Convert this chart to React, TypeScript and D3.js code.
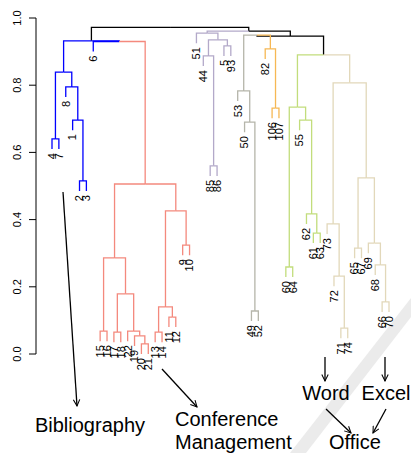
import React, { useEffect, useRef } from 'react';
import * as d3 from 'd3';

// leaf order along the x axis (left to right)
const leafOrder = [
  '4', '7', '8', '1', '2', '3', '6',
  '15', '16', '17', '18', '22', '19', '20', '21', '13', '14', '11', '12', '9', '10',
  '51', '44', '85', '86', '5', '93',
  '53', '50', '49', '52',
  '82', '106', '107',
  '60', '64', '55', '62', '61', '63',
  '73', '72', '71', '74', '65', '67', '69', '68', '66', '70',
];

// merges: [node id, left child, right child, height]
const merges: [string, string, string, number][] = [
  ['b47', '4', '7', 0.64],
  ['b23', '2', '3', 0.515],
  ['b123', '1', 'b23', 0.696],
  ['b8', '8', 'b123', 0.795],
  ['blueA', 'b47', 'b8', 0.839],
  ['r1516', '15', '16', 0.068],
  ['r1718', '17', '18', 0.065],
  ['r2021', '20', '21', 0.03],
  ['r19', '19', 'r2021', 0.054],
  ['r22', '22', 'r19', 0.068],
  ['r17', 'r1718', 'r22', 0.179],
  ['rL', 'r1516', 'r17', 0.286],
  ['r1314', '13', '14', 0.065],
  ['r1112', '11', '12', 0.11],
  ['r11', 'r1314', 'r1112', 0.14],
  ['r910', '9', '10', 0.324],
  ['rR', 'r11', 'r910', 0.426],
  ['red', 'rL', 'rR', 0.506],
  ['b6r', '6', 'red', 0.93],
  ['n1', 'blueA', 'b6r', 0.932],
  ['p8586', '85', '86', 0.56],
  ['p44', '44', 'p8586', 0.887],
  ['p593', '5', '93', 0.917],
  ['p44b', 'p44', 'p593', 0.935],
  ['purple', '51', 'p44b', 0.955],
  ['g4952', '49', '52', 0.128],
  ['g50', '50', 'g4952', 0.69],
  ['gray', '53', 'g50', 0.783],
  ['o106', '106', '107', 0.732],
  ['orange', '82', 'o106', 0.908],
  ['go', 'gray', 'orange', 0.949],
  ['gr6064', '60', '64', 0.259],
  ['gr6163', '61', '63', 0.36],
  ['gr62', '62', 'gr6163', 0.417],
  ['gr55', '55', 'gr62', 0.696],
  ['green', 'gr6064', 'gr55', 0.735],
  ['t7174', '71', '74', 0.077],
  ['t72', '72', 't7174', 0.232],
  ['t73', '73', 't72', 0.387],
  ['t6567', '65', '67', 0.315],
  ['t6670', '66', '70', 0.155],
  ['t68', '68', 't6670', 0.265],
  ['t69', '69', 't68', 0.33],
  ['t65', 't6567', 't69', 0.524],
  ['tan', 't73', 't65', 0.807],
  ['gt', 'green', 'tan', 0.89],
  ['m1', 'go', 'gt', 0.946],
  ['m2', 'purple', 'm1', 0.961],
  ['m3', 'n1', 'm2', 0.972],
];

// cluster colours (children inherit unless they have their own)
const clusterColors: Record<string, string> = {
  blueA: '#0000ff',
  b6r: '#0000ff',
  red: '#f4897d',
  purple: '#b3a9c9',
  gray: '#b5b5aa',
  orange: '#f6b854',
  green: '#c2dd7c',
  tan: '#e2d8ba',
};

const yTicks = [0, 0.2, 0.4, 0.6, 0.8, 1.0];
const hang = 0.03;

type Node = { id: string; left?: Node; right?: Node; h: number; x: number; color: string };

export default function App() {
  const svgRef = useRef<SVGSVGElement>(null);

  useEffect(() => {
    if (!svgRef.current) return;
    const svg = d3.select(svgRef.current);
    svg.selectAll('*').remove();

    const width = 411;
    const height = 453;
    svg.attr('width', width).attr('height', height);

    const x = d3.scaleLinear().domain([0, leafOrder.length - 1]).range([52, 389]);
    const y = d3.scaleLinear().domain([0, 1]).range([354, 18]);

    // build the tree
    const nodes = new Map<string, Node>();
    leafOrder.forEach((id, i) => nodes.set(id, { id, h: 0, x: x(i), color: '#000' }));
    merges.forEach(([id, l, r, h]) => {
      const left = nodes.get(l)!;
      const right = nodes.get(r)!;
      nodes.set(id, { id, left, right, h, x: (left.x + right.x) / 2, color: '#000' });
    });
    const root = nodes.get(merges[merges.length - 1][0])!;

    const edges: { px: number; ph: number; c: Node }[] = [];
    const walk = (n: Node, col: string) => {
      n.color = clusterColors[n.id] ?? col;
      if (!n.left || !n.right) return;
      for (const c of [n.left, n.right]) {
        if (!c.left) c.h = n.h - hang;
        edges.push({ px: n.x, ph: n.h, c });
        walk(c, n.color);
      }
    };
    walk(root, '#000');

    // watermark band
    svg.append('polygon')
      .attr('points', '290,453 306,453 411,317 411,298')
      .attr('fill', '#ebebeb');

    const g = svg.append('g');
    g.selectAll('path.edge')
      .data(edges)
      .enter().append('path')
      .attr('class', 'edge')
      .attr('d', (e) => `M${e.px},${y(e.ph)}H${e.c.x}V${y(e.c.h)}`)
      .attr('fill', 'none')
      .attr('stroke', (e) => e.c.color)
      .attr('stroke-width', 1.3);

    // leaf labels
    const leaves = edges.filter((e) => !e.c.left).map((e) => e.c);
    g.selectAll('text.leaf')
      .data(leaves)
      .enter().append('text')
      .attr('class', 'leaf')
      .attr('transform', (d) => `translate(${d.x},${y(d.h) + 4}) rotate(-90)`)
      .attr('text-anchor', 'end')
      .attr('dy', '0.35em')
      .style('font-size', '11px')
      .text((d) => d.id);

    // y axis
    const axis = svg.append('g');
    axis.append('line')
      .attr('x1', 36).attr('x2', 36)
      .attr('y1', y(0)).attr('y2', y(1))
      .attr('stroke', '#000');
    axis.selectAll('line.tick')
      .data(yTicks)
      .enter().append('line')
      .attr('class', 'tick')
      .attr('x1', 29).attr('x2', 36)
      .attr('y1', (d) => y(d)).attr('y2', (d) => y(d))
      .attr('stroke', '#000');
    axis.selectAll('text')
      .data(yTicks)
      .enter().append('text')
      .attr('transform', (d) => `translate(21,${y(d)}) rotate(-90)`)
      .attr('text-anchor', 'middle')
      .style('font-size', '11px')
      .text((d) => d.toFixed(1));

    // annotations
    const defs = svg.append('defs');
    defs.append('marker')
      .attr('id', 'arr')
      .attr('viewBox', '0 0 10 10')
      .attr('refX', 9).attr('refY', 5)
      .attr('markerWidth', 8).attr('markerHeight', 8)
      .attr('markerUnits', 'userSpaceOnUse')
      .attr('orient', 'auto')
      .append('path')
      .attr('d', 'M1,1L9,5L1,9')
      .attr('fill', 'none')
      .attr('stroke', '#000')
      .attr('stroke-width', 1.3);

    const arrows = [
      [63, 192, 77, 406],
      [162, 369, 197, 407],
      [325, 357, 325, 381],
      [385, 357, 385, 381],
      [326, 409, 351, 433],
      [386, 409, 373, 433],
    ];
    svg.selectAll('line.arrow')
      .data(arrows)
      .enter().append('line')
      .attr('class', 'arrow')
      .attr('x1', (d) => d[0]).attr('y1', (d) => d[1])
      .attr('x2', (d) => d[2]).attr('y2', (d) => d[3])
      .attr('stroke', '#000')
      .attr('stroke-width', 1.3)
      .attr('marker-end', 'url(#arr)');

    const notes: [string, number, number, string][] = [
      ['Bibliography', 90, 432, 'middle'],
      ['Conference', 175, 426, 'start'],
      ['Management', 175, 449, 'start'],
      ['Word', 326, 400, 'middle'],
      ['Excel', 386, 400, 'middle'],
      ['Office', 355, 449, 'middle'],
    ];
    svg.selectAll('text.note')
      .data(notes)
      .enter().append('text')
      .attr('class', 'note')
      .attr('x', (d) => d[1]).attr('y', (d) => d[2])
      .attr('text-anchor', (d) => d[3])
      .style('font-size', '20px')
      .text((d) => d[0]);
  }, []);

  return (
    <svg
      ref={svgRef}
      style={{ position: 'absolute', left: 0, top: 0, background: '#fff', fontFamily: '"Liberation Sans", Arial, sans-serif' }}
    />
  );
}
